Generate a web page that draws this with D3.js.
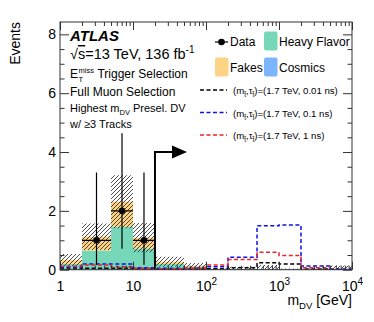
<!DOCTYPE html>
<html>
<head>
<meta charset="utf-8">
<script src="https://cdn.jsdelivr.net/npm/d3@7"></script>
<style>
body { margin: 0; background: #fff; }
svg { font-family: "Liberation Sans", Arial, Helvetica, sans-serif; }
</style>
</head>
<body>
<svg id="chart" width="374" height="322"></svg>
<script>
//Bin edges of the m_DV histogram in GeV
var binEdges = [1, 2, 5, 10, 20, 50, 100, 200, 500, 1000, 2000, 5000, 10000];

//Background stack, one value per bin
var cosmics     = [0, 0, 0, 0, 0, 0, 0, 0, 0, 0, 0, 0];
var heavyFlavor = [0.20, 0.65, 1.46, 0.72, 0.19, 0.08, 0, 0, 0, 0, 0, 0];
var fakes       = [0.13, 0.47, 0.85, 0.37, 0.08, 0.05, 0, 0, 0, 0, 0, 0];
var bkgError    = [0.20, 0.45, 0.90, 0.50, 0.17, 0.10, 0.04, 0.10, 0.16, 0.04, 0.03, 0.14];

//Observed events (bin index, counts, asymmetric poisson errors)
var dataBins    = [1, 2, 3];
var dataCounts  = [1, 2, 1];
var dataErrLow  = [0.83, 1.29, 0.83];
var dataErrHigh = [2.30, 2.64, 2.30];

//Signal samples (m, tau) = (1.7 TeV, ...)
var sig001 = [0.02, 0.05, 0.05, 0.02, 0.01, 0.01, 0.03, 0.07, 0.24, 0.19, 0.02, 0.00];
var sig01  = [0.08, 0.19, 0.19, 0.07, 0.05, 0.05, 0.10, 0.42, 1.49, 1.52, 0.13, 0.02];
var sig1   = [0.12, 0.16, 0.10, 0.05, 0.03, 0.05, 0.16, 0.35, 0.59, 0.48, 0.07, 0.00];
var sigLifetimes = ["0.01 ns", "0.1 ns", "1 ns"];
var sigColors = ["#000000", "#1010e0", "#e8262a"];

//Axis ticks
var yTicks = [0, 2, 4, 6, 8];
var xTicks = [1, 10, 100, 1000, 10000];

//Selection cut drawn as an arrow
var cutValue = 20;
var arrowLevel = 4;

var svg = d3.select("#chart"),
  margin = {top: 22, right: 22, bottom: 52.3, left: 60},
  width = +svg.attr("width") - margin.left - margin.right,
  height = +svg.attr("height") - margin.top - margin.bottom,
  g = svg.append("g").attr("transform", "translate(" + margin.left + "," + margin.top + ")");

var x = d3.scaleLog().domain([1, 10000]).range([0, width]);
var y = d3.scaleLinear().domain([0, 8.42]).range([height, 0]);

var defs = svg.append("defs");
defs.append("clipPath").attr("id", "plotclip")
  .append("rect").attr("width", width).attr("height", height);

//Hatch pattern for the background uncertainty
defs.append("pattern")
  .attr("id", "hatch")
  .attr("patternUnits", "userSpaceOnUse")
  .attr("width", 4).attr("height", 4)
  .append("path")
  .attr("d", "M-1,1 l2,-2 M0,4 l4,-4 M3,5 l2,-2")
  .attr("stroke", "#222")
  .attr("stroke-width", 0.8);

var plot = g.append("g").attr("clip-path", "url(#plotclip)");

//Repeats the last bin so step curves reach the last edge
function withLast(arr) { return arr.concat([arr[arr.length - 1]]); }

//Stacked background
var rows = binEdges.slice(0, -1).map(function(e, i) {
  return {cosmics: cosmics[i], heavyFlavor: heavyFlavor[i], fakes: fakes[i]};
});
var stackKeys = ["cosmics", "heavyFlavor", "fakes"];
var fillColors = {cosmics: "#7cb5fb", heavyFlavor: "#76d8b8", fakes: "#fdd386"};
var series = d3.stack().keys(stackKeys)(rows);

var stepArea = d3.area()
  .x(function(d, i) { return x(binEdges[i]); })
  .y0(function(d) { return y(d[0]); })
  .y1(function(d) { return y(d[1]); })
  .curve(d3.curveStepAfter);

plot.selectAll("path.stack")
  .data(series)
  .enter().append("path")
  .attr("class", "stack")
  .attr("fill", function(d) { return fillColors[d.key]; })
  .attr("d", function(d) { return stepArea(withLast(d)); });

//Uncertainty band
var totals = rows.map(function(r) { return r.cosmics + r.heavyFlavor + r.fakes; });
var band = totals.map(function(t, i) { return [Math.max(0, t - bkgError[i]), t + bkgError[i]]; });
plot.append("path")
  .attr("fill", "url(#hatch)")
  .attr("d", stepArea(withLast(band)));

//Cosmics outline sits at zero
var stepLine = d3.line()
  .x(function(d, i) { return x(binEdges[i]); })
  .y(function(d) { return y(d); })
  .curve(d3.curveStepAfter);

plot.append("path")
  .attr("fill", "none")
  .attr("stroke", fillColors.cosmics)
  .attr("stroke-width", 1.2)
  .attr("d", stepLine(withLast(series[0].map(function(d) { return d[1]; }))));

//Signal histograms
var signals = [sig001, sig01, sig1];
plot.selectAll("path.sig")
  .data(signals)
  .enter().append("path")
  .attr("class", "sig")
  .attr("fill", "none")
  .attr("stroke", function(d, i) { return sigColors[i]; })
  .attr("stroke-width", 1.5)
  .attr("stroke-dasharray", "4,2.5")
  .attr("d", function(d) { return stepLine(withLast(d)); });

//Data points with error bars
var pts = plot.selectAll("g.pt")
  .data(dataBins)
  .enter().append("g")
  .attr("class", "pt");

pts.append("line")
  .attr("x1", function(b) { return x(binEdges[b]); })
  .attr("x2", function(b) { return x(binEdges[b + 1]); })
  .attr("y1", function(b, i) { return y(dataCounts[i]); })
  .attr("y2", function(b, i) { return y(dataCounts[i]); })
  .attr("stroke", "#000").attr("stroke-width", 1.2);

pts.append("line")
  .attr("x1", function(b) { return x(Math.sqrt(binEdges[b] * binEdges[b + 1])); })
  .attr("x2", function(b) { return x(Math.sqrt(binEdges[b] * binEdges[b + 1])); })
  .attr("y1", function(b, i) { return y(dataCounts[i] - dataErrLow[i]); })
  .attr("y2", function(b, i) { return y(dataCounts[i] + dataErrHigh[i]); })
  .attr("stroke", "#000").attr("stroke-width", 1.2);

pts.append("circle")
  .attr("cx", function(b) { return x(Math.sqrt(binEdges[b] * binEdges[b + 1])); })
  .attr("cy", function(b, i) { return y(dataCounts[i]); })
  .attr("r", 3.3)
  .attr("fill", "#000");

//Cut arrow
var ax = x(cutValue), ay = y(arrowLevel);
g.append("path")
  .attr("fill", "none").attr("stroke", "#000").attr("stroke-width", 2)
  .attr("d", "M" + ax + "," + y(0) + "V" + ay + "H" + (ax + 18));
g.append("path")
  .attr("fill", "#000")
  .attr("d", "M" + (ax + 17) + "," + (ay - 6.5) + "L" + (ax + 32) + "," + ay + "L" + (ax + 17) + "," + (ay + 6.5) + "Z");

//Axes, ROOT style ticks pointing inward
function minorLog() {
  var out = [];
  [1, 10, 100, 1000].forEach(function(p) {
    for (var k = 2; k <= 9; k++) out.push(p * k);
  });
  return out;
}
var yMinor = d3.range(0.5, 8.42, 0.5).filter(function(v) { return v % 2 !== 0; });

function styleAxis(sel) {
  sel.selectAll("path.domain").remove();
  sel.selectAll("line").attr("stroke", "#333");
  sel.selectAll("text").attr("fill", "#000").attr("font-size", 14);
}

g.append("g").call(d3.axisLeft(y).tickValues(yTicks).tickSize(-9).tickPadding(4).tickFormat(d3.format("d"))).call(styleAxis);
g.append("g").call(d3.axisLeft(y).tickValues(yMinor).tickSize(-4.5).tickFormat("")).call(styleAxis);
g.append("g").attr("transform", "translate(" + width + ",0)")
  .call(d3.axisRight(y).tickValues(yTicks).tickSize(-9).tickFormat("")).call(styleAxis);
g.append("g").attr("transform", "translate(" + width + ",0)")
  .call(d3.axisRight(y).tickValues(yMinor).tickSize(-4.5).tickFormat("")).call(styleAxis);

var xAxis = g.append("g").attr("transform", "translate(0," + height + ")")
  .call(d3.axisBottom(x).tickValues(xTicks).tickSize(-8).tickPadding(11).tickFormat(""))
  .call(styleAxis);
g.append("g").attr("transform", "translate(0," + height + ")")
  .call(d3.axisBottom(x).tickValues(minorLog()).tickSize(-4).tickFormat("")).call(styleAxis);
g.append("g").call(d3.axisTop(x).tickValues(xTicks).tickSize(-8).tickFormat("")).call(styleAxis);
g.append("g").call(d3.axisTop(x).tickValues(minorLog()).tickSize(-4).tickFormat("")).call(styleAxis);

//x tick labels as powers of ten
xAxis.selectAll(".tick text").each(function(d) {
  var t = d3.select(this);
  var p = Math.round(Math.log10(d));
  if (p < 2) { t.text(d); return; }
  t.append("tspan").text("10");
  t.append("tspan").attr("font-size", 10).attr("dy", "-0.55em").text(p);
});

//Frame
g.append("rect")
  .attr("width", width).attr("height", height)
  .attr("fill", "none").attr("stroke", "#333").attr("stroke-width", 1);

//Axis titles
var xTitle = svg.append("text")
  .attr("x", margin.left + width).attr("y", 305)
  .attr("text-anchor", "end").attr("font-size", 14);
xTitle.append("tspan").text("m");
xTitle.append("tspan").attr("font-size", 9.5).attr("dy", 4).text("DV");
xTitle.append("tspan").attr("dy", -4).text(" [GeV]");

svg.append("text")
  .attr("transform", "translate(20," + margin.top + ") rotate(-90)")
  .attr("text-anchor", "end").attr("font-size", 14)
  .text("Events");

//ATLAS label block
var lx = 70;
svg.append("text").attr("x", lx).attr("y", 40.5)
  .attr("font-size", 15).attr("font-weight", "bold").attr("font-style", "italic")
  .text("ATLAS");

var en = svg.append("text").attr("x", lx).attr("y", 59).attr("font-size", 14.5);
en.append("tspan").text("\u221A");
en.append("tspan").style("text-decoration", "overline").text("s");
en.append("tspan").text("=13 TeV, 136 fb");
en.append("tspan").attr("font-size", 10).attr("dy", -6).text("-1");

var eT = svg.append("text").attr("x", lx).attr("y", 78.3).attr("font-size", 12).text("E");
var ew = eT.node().getComputedTextLength();
var miss = svg.append("text").attr("x", lx + ew + 0.5).attr("y", 73).attr("font-size", 7.5).text("miss");
svg.append("text").attr("x", lx + ew + 0.5).attr("y", 81.5).attr("font-size", 7.5).text("T");
svg.append("text").attr("x", lx + ew + 4 + miss.node().getComputedTextLength()).attr("y", 78.3)
  .attr("font-size", 12).text("Trigger Selection");

svg.append("text").attr("x", lx).attr("y", 95.7).attr("font-size", 12).text("Full Muon Selection");

var hi = svg.append("text").attr("x", lx).attr("y", 112.3).attr("font-size", 11);
hi.append("tspan").text("Highest m");
hi.append("tspan").attr("font-size", 7.5).attr("dy", 3).text("DV");
hi.append("tspan").attr("dy", -3).attr("dx", 3).text("Presel. DV");

svg.append("text").attr("x", lx).attr("y", 128.3).attr("font-size", 11).text("w/ \u22653 Tracks");

//Legend
var leg = svg.append("g").attr("font-size", 12);
leg.append("line").attr("x1", 215).attr("x2", 228).attr("y1", 42).attr("y2", 42)
  .attr("stroke", "#000").attr("stroke-width", 1.2);
leg.append("circle").attr("cx", 221.5).attr("cy", 42).attr("r", 3.3).attr("fill", "#000");
leg.append("text").attr("x", 230).attr("y", 46).text("Data");

var boxes = [
  {key: "heavyFlavor", label: "Heavy Flavor", bx: 264, by: 31.5},
  {key: "fakes", label: "Fakes", bx: 215, by: 57.5},
  {key: "cosmics", label: "Cosmics", bx: 264, by: 57.5}
];
leg.selectAll("rect.box")
  .data(boxes)
  .enter().append("rect")
  .attr("class", "box")
  .attr("x", function(d) { return d.bx; })
  .attr("y", function(d) { return d.by; })
  .attr("width", 13.5).attr("height", 19)
  .attr("rx", 2)
  .attr("fill", function(d) { return fillColors[d.key]; });
leg.selectAll("text.boxlab")
  .data(boxes)
  .enter().append("text")
  .attr("class", "boxlab")
  .attr("x", function(d) { return d.bx + 15; })
  .attr("y", function(d) { return d.by + 14; })
  .text(function(d) { return d.label; });

var sigLeg = svg.append("g").selectAll("g")
  .data(sigLifetimes)
  .enter().append("g")
  .attr("transform", function(d, i) { return "translate(0," + (90 + i * 22.5) + ")"; });

sigLeg.append("line")
  .attr("x1", 200).attr("x2", 227)
  .attr("stroke", function(d, i) { return sigColors[i]; })
  .attr("stroke-width", 1.5)
  .attr("stroke-dasharray", "4,2.5");

var sigText = sigLeg.append("text")
  .attr("x", 233).attr("y", 4)
  .attr("font-size", 9.6);
sigText.append("tspan").text("(m");
sigText.append("tspan").attr("font-size", 6.5).attr("dy", 3).text("t\u0303");
sigText.append("tspan").attr("dy", -3).text(",\u03C4");
sigText.append("tspan").attr("font-size", 6.5).attr("dy", 3).text("t\u0303");
sigText.append("tspan").attr("dy", -3).text(function(d) { return ")=(1.7 TeV, " + d + ")"; });
</script>
</body>
</html>
